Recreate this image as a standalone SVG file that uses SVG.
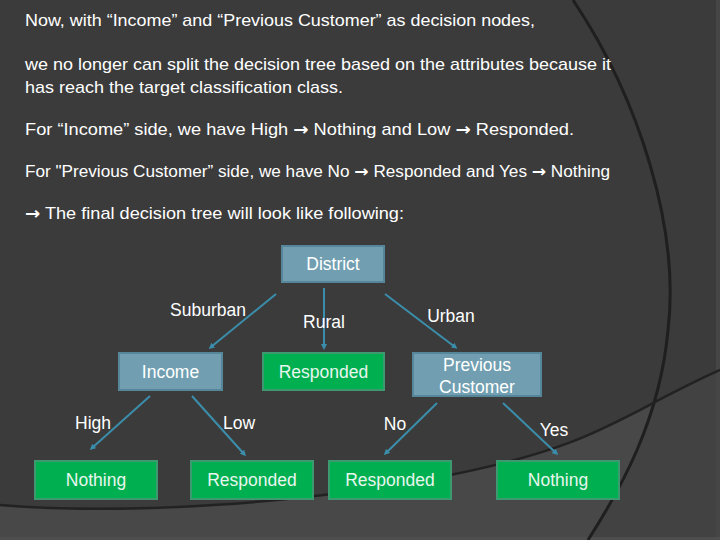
<svg xmlns="http://www.w3.org/2000/svg" width="720" height="540" viewBox="0 0 720 540">
  <style>
    .para { font-family: "Liberation Sans", Arial, sans-serif; font-size: 17px; fill: #ffffff; }
    .arr { font-family: "DejaVu Sans", sans-serif; font-weight: bold; }
    .lbl { font-family: "Liberation Sans", Arial, sans-serif; font-size: 17.5px; fill: #ffffff; text-anchor: middle; }
    .ntxt { font-family: "Liberation Sans", Arial, sans-serif; font-size: 17.5px; text-anchor: middle; }
    .blue rect { fill: #719fb1; stroke: #55869a; stroke-width: 2; }
    .blue text { fill: #ffffff; }
    .green rect { fill: #00b050; stroke: #3d9a70; stroke-width: 2; }
    .green text { fill: #e8f6ee; }
    .edge { stroke: #3b8eab; stroke-width: 2; fill: none; marker-end: url(#tip); }
  </style>
  <defs>
    <marker id="tip" viewBox="0 0 6 6" refX="3" refY="3" markerWidth="3" markerHeight="3" orient="auto" markerUnits="strokeWidth">
      <path d="M0,0 L6,3 L0,6 Z" fill="#3b8eab"/>
    </marker>
    <clipPath id="below2">
      <path d="M0,505 C120,515 300,505 450,475 S620,415 720,370 L720,540 L0,540 Z"/>
    </clipPath>
  </defs>

  <!-- background -->
  <g id="background">
    <rect x="0" y="0" width="720" height="540" fill="#3b3b3b"/>
    <path d="M0,505 C120,515 300,505 450,475 S620,415 720,370 L720,540 L0,540 Z" fill="#484848"/>
    <path d="M573,0 C640,100 680,230 668,330 C660,420 620,490 588,540 L720,540 L720,0 Z" fill="#424242" clip-path="url(#below2)"/>
    <rect x="716" y="0" width="4" height="540" fill="#464646"/>
    <rect x="0" y="537" width="720" height="3" fill="#4e4e4e"/>
    <path d="M573,0 C640,100 680,230 668,330 C660,420 620,490 588,540" fill="none" stroke="#1f1f1f" stroke-width="3"/>
    <path d="M0,505 C120,515 300,505 450,475 S620,415 720,370" fill="none" stroke="#222222" stroke-width="2.5"/>
  </g>

  <!-- paragraph text -->
  <g id="paragraph">
    <text class="para" x="25" y="26" textLength="510" lengthAdjust="spacingAndGlyphs">Now, with “Income” and “Previous Customer” as decision nodes,</text>
    <text class="para" x="25" y="70" textLength="586" lengthAdjust="spacingAndGlyphs">we no longer can split the decision tree based on the attributes because it</text>
    <text class="para" x="25" y="93" textLength="318" lengthAdjust="spacingAndGlyphs">has reach the target classification class.</text>
    <text class="para" x="25" y="135" textLength="549" lengthAdjust="spacingAndGlyphs">For “Income” side, we have High <tspan class="arr">→</tspan> Nothing and Low <tspan class="arr">→</tspan> Responded.</text>
    <text class="para" x="25" y="177" style="font-size:16px" textLength="585" lengthAdjust="spacingAndGlyphs">For "Previous Customer” side, we have No <tspan class="arr">→</tspan> Responded and Yes <tspan class="arr">→</tspan> Nothing</text>
    <text class="para" x="25" y="219" textLength="379" lengthAdjust="spacingAndGlyphs"><tspan class="arr">→</tspan> The final decision tree will look like following:</text>
  </g>

  <!-- connectors -->
  <g id="connectors">
    <line class="edge" x1="276" y1="294" x2="211" y2="347"/>
    <line class="edge" x1="324" y1="288" x2="324" y2="347"/>
    <line class="edge" x1="385" y1="294" x2="455" y2="347"/>
    <line class="edge" x1="150" y1="396" x2="92" y2="448"/>
    <line class="edge" x1="192" y1="396" x2="244" y2="454"/>
    <line class="edge" x1="437" y1="403" x2="386" y2="453"/>
    <line class="edge" x1="503" y1="403" x2="556" y2="453"/>
  </g>

  <!-- connector labels -->
  <g id="edge-labels">
    <text class="lbl" x="208" y="316">Suburban</text>
    <text class="lbl" x="324" y="328">Rural</text>
    <text class="lbl" x="451" y="322">Urban</text>
    <text class="lbl" x="93" y="429">High</text>
    <text class="lbl" x="239" y="429">Low</text>
    <text class="lbl" x="395" y="430">No</text>
    <text class="lbl" x="554" y="436">Yes</text>
  </g>

  <!-- nodes -->
  <g id="node-district" class="blue">
    <rect x="282" y="246" width="102" height="36"/>
    <text class="ntxt" x="333" y="270">District</text>
  </g>
  <g id="node-income" class="blue">
    <rect x="119" y="353" width="103" height="37"/>
    <text class="ntxt" x="170.5" y="378">Income</text>
  </g>
  <g id="node-responded-rural" class="green">
    <rect x="263" y="353" width="121" height="37"/>
    <text class="ntxt" x="323.5" y="378">Responded</text>
  </g>
  <g id="node-previous-customer" class="blue">
    <rect x="413" y="353" width="128" height="43"/>
    <text class="ntxt" x="477" y="371">Previous</text>
    <text class="ntxt" x="477" y="393">Customer</text>
  </g>
  <g id="node-nothing-high" class="green">
    <rect x="35" y="461" width="122" height="38"/>
    <text class="ntxt" x="96" y="486">Nothing</text>
  </g>
  <g id="node-responded-low" class="green">
    <rect x="191" y="461" width="122" height="38"/>
    <text class="ntxt" x="252" y="486">Responded</text>
  </g>
  <g id="node-responded-no" class="green">
    <rect x="329" y="461" width="122" height="38"/>
    <text class="ntxt" x="390" y="486">Responded</text>
  </g>
  <g id="node-nothing-yes" class="green">
    <rect x="497" y="461" width="122" height="38"/>
    <text class="ntxt" x="558" y="486">Nothing</text>
  </g>
</svg>
